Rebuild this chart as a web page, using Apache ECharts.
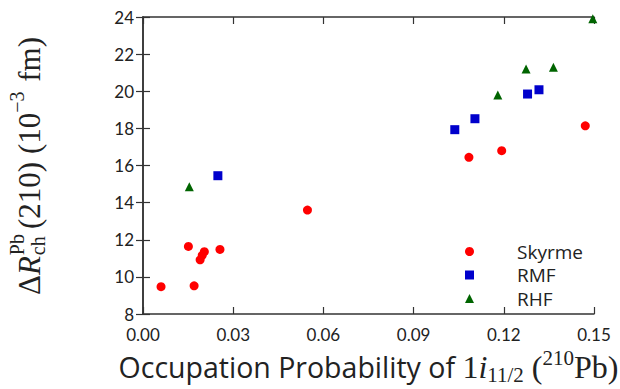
<!DOCTYPE html>
<html>
<head>
<meta charset="utf-8">
<script src="https://cdn.jsdelivr.net/npm/echarts@6/dist/echarts.min.js"></script>
<style>html,body{margin:0;padding:0;background:#fff}#c{width:620px;height:389px}</style>
</head>
<body>
<div id="c"></div>
<script>
// ---- data ----
var skyrmeX = [0.006, 0.017, 0.0151, 0.019, 0.0197, 0.0204, 0.0256, 0.0547, 0.1084, 0.1193, 0.1471];
var skyrmeY = [9.47, 9.52, 11.64, 10.92, 11.16, 11.36, 11.48, 13.6, 16.44, 16.8, 18.14];
var rmfX = [0.0249, 0.1037, 0.1104, 0.1279, 0.1317];
var rmfY = [15.45, 17.93, 18.52, 19.85, 20.08];
var rhfX = [0.0154, 0.118, 0.1274, 0.1365, 0.1496];
var rhfY = [14.86, 19.8, 21.2, 21.29, 23.9];
var seriesNames = ['Skyrme', 'RMF', 'RHF'];
var xTicks = ['0.00', '0.03', '0.06', '0.09', '0.12', '0.15'];
var yTicks = ['8', '10', '12', '14', '16', '18', '20', '22', '24'];

function pairs(xs, ys) { return xs.map(function (x, i) { return [x, ys[i]]; }); }

var SANS = 'Open Sans';
var TICKSANS = 'Lato';
var SERIF = 'Liberation Serif';
var AX = '#333';

var chart = echarts.init(document.getElementById('c'), null, { renderer: 'svg' });

// y-axis title built from measured pieces (stacked sub/superscripts)
var mctx = document.createElement('canvas').getContext('2d');
function w(txt, size, style) { mctx.font = (style || 'normal') + ' ' + size + 'px "' + SERIF + '"'; return mctx.measureText(txt).width; }
var M = 31, S = 20;
var pieces = [
  { t: '\u0394', s: M, dy: 0 },
  { t: 'R', s: M, dy: 0, st: 'italic' },
  { stack: true, sup: 'Pb', sub: 'ch' },
  { t: '(210) (10', s: M, dy: 0, pre: 4 },
  { t: '\u22123', s: S, dy: -12 },
  { t: ' fm)', s: M, dy: 0, pre: 2 }
];
var ytitleChildren = [];
var cursor = 0;
var items = [];
pieces.forEach(function (p) {
  if (p.stack) {
    var ww = Math.max(w(p.sup, S), w(p.sub, S));
    items.push({ t: p.sup, s: S, x: cursor + 1, dy: -12 });
    items.push({ t: p.sub, s: S, x: cursor + 1, dy: 9 });
    cursor += ww + 2;
  } else {
    cursor += (p.pre || 0);
    items.push({ t: p.t, s: p.s, x: cursor, dy: p.dy, st: p.st });
    cursor += w(p.t, p.s, p.st);
  }
});
var total = cursor;
items.forEach(function (it) {
  ytitleChildren.push({
    type: 'text',
    x: it.x - total / 2,
    y: it.dy,
    style: {
      text: it.t,
      font: (it.st || 'normal') + ' ' + it.s + 'px "' + SERIF + '"',
      fill: '#222',
      verticalAlign: 'middle',
      align: 'left'
    }
  });
});

var xName = '{s|Occupation Probability of }{r|1}{i|i}{sub|11/2}{r| (}{sup|210}{r|Pb)}';

function axisCommon(extra) {
  var base = {
    axisLine: { show: true, lineStyle: { color: AX, width: 1.5 } },
    axisTick: { show: true, inside: true, length: 7, lineStyle: { color: AX, width: 1.2 } },
    splitLine: { show: false }
  };
  for (var k in extra) base[k] = extra[k];
  return base;
}

var option = {
  animation: false,
  grid: { left: 143, right: 26, top: 17, bottom: 75, containLabel: false, outerBoundsMode: 'none' },
  xAxis: [
    axisCommon({
      type: 'value', min: 0, max: 0.15, interval: 0.03, position: 'bottom',
      axisLabel: {
        color: '#222', fontFamily: TICKSANS, fontSize: 17, margin: 12,
        formatter: function (v) { var i = Math.round(v / 0.03); return xTicks[i] !== undefined ? xTicks[i] : ''; }
      },
      name: xName, nameLocation: 'middle', nameGap: 33,
      nameTextStyle: {
        rich: {
          s: { fontFamily: SANS, fontSize: 28.5, color: '#222', lineHeight: 38 },
          r: { fontFamily: SERIF, fontSize: 32, color: '#222', lineHeight: 38 },
          i: { fontFamily: SERIF, fontStyle: 'italic', fontSize: 32, color: '#222', lineHeight: 38 },
          sub: { fontFamily: SERIF, fontSize: 21, color: '#222', lineHeight: 16, verticalAlign: 'bottom' },
          sup: { fontFamily: SERIF, fontSize: 21, color: '#222', lineHeight: 22, verticalAlign: 'top' }
        }
      }
    }),
    axisCommon({
      type: 'value', min: 0, max: 0.15, interval: 0.03, position: 'top',
      axisLabel: { show: false }
    })
  ],
  yAxis: [
    axisCommon({
      type: 'value', min: 8, max: 24, interval: 2, position: 'left',
      axisLabel: {
        color: '#222', fontFamily: TICKSANS, fontSize: 17, margin: 9,
        formatter: function (v) { var i = Math.round((v - 8) / 2); return yTicks[i] !== undefined ? yTicks[i] : ''; }
      }
    }),
    axisCommon({
      type: 'value', min: 8, max: 24, interval: 2, position: 'right',
      axisLabel: { show: false }
    })
  ],
  legend: {
    orient: 'vertical', left: 460, top: 236,
    itemWidth: 9, itemHeight: 9, itemGap: 2.5,
    textStyle: { fontFamily: SANS, fontSize: 19, color: '#222', lineHeight: 21, padding: [0, 0, 0, 38] },
    data: [
      { name: seriesNames[0], icon: 'circle' },
      { name: seriesNames[1], icon: 'rect' },
      { name: seriesNames[2], icon: 'triangle' }
    ]
  },
  series: [
    { name: seriesNames[0], type: 'scatter', symbol: 'circle', symbolSize: 9, clip: false,
      itemStyle: { color: '#ff0000', opacity: 1 }, data: pairs(skyrmeX, skyrmeY) },
    { name: seriesNames[1], type: 'scatter', symbol: 'rect', symbolSize: 9, clip: false,
      itemStyle: { color: '#0000cc', opacity: 1 }, data: pairs(rmfX, rmfY) },
    { name: seriesNames[2], type: 'scatter', symbol: 'triangle', symbolSize: 9, clip: false,
      itemStyle: { color: '#006400', opacity: 1 }, data: pairs(rhfX, rhfY) }
  ],
  graphic: [
    { type: 'group', x: 29, y: 166, rotation: Math.PI / 2, children: ytitleChildren }
  ]
};
chart.setOption(option);
</script>
</body>
</html>
